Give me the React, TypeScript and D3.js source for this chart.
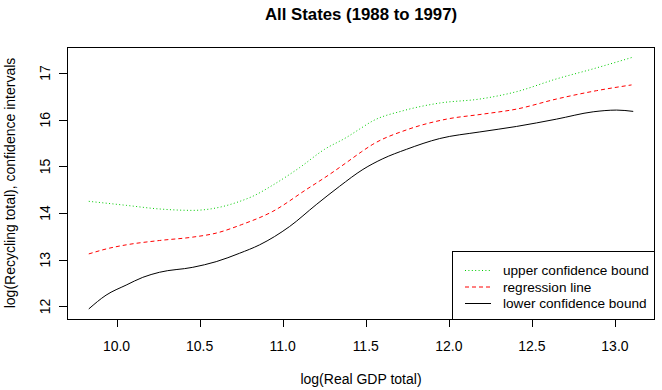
import React from "react";
import * as d3 from "d3";

// ---- data ----
const upperX = [9.833, 10.058, 10.258, 10.459, 10.600, 10.741, 10.820, 10.941, 11.101, 11.252, 11.383, 11.463, 11.543, 11.724, 11.945, 12.187, 12.407, 12.648, 12.869, 13.110];
const upperY = [14.252, 14.166, 14.088, 14.058, 14.110, 14.250, 14.360, 14.600, 14.972, 15.366, 15.619, 15.800, 15.976, 16.192, 16.358, 16.444, 16.601, 16.875, 17.091, 17.343];

const regX = [9.833, 9.957, 10.058, 10.258, 10.459, 10.600, 10.751, 10.941, 11.142, 11.282, 11.383, 11.473, 11.543, 11.745, 11.986, 12.206, 12.407, 12.648, 12.889, 13.100];
const regY = [13.125, 13.248, 13.319, 13.412, 13.485, 13.571, 13.750, 14.037, 14.504, 14.828, 15.080, 15.310, 15.474, 15.782, 16.013, 16.121, 16.228, 16.444, 16.623, 16.746];

const lowerX = [9.833, 9.937, 10.058, 10.158, 10.258, 10.459, 10.600, 10.741, 10.861, 11.042, 11.202, 11.343, 11.483, 11.603, 11.745, 11.945, 12.187, 12.407, 12.648, 12.869, 13.010, 13.110];
const lowerY = [11.946, 12.241, 12.457, 12.623, 12.731, 12.838, 12.959, 13.140, 13.319, 13.713, 14.181, 14.575, 14.935, 15.165, 15.366, 15.597, 15.739, 15.856, 16.013, 16.170, 16.207, 16.179];

const xTicks = [10.0, 10.5, 11.0, 11.5, 12.0, 12.5, 13.0];
const yTicks = [12, 13, 14, 15, 16, 17];

const legendLabels = ["upper confidence bound", "regression line", "lower confidence bound"];
const titleText = "All States (1988 to 1997)";
const xLabel = "log(Real GDP total)";
const yLabel = "log(Recycling total), confidence intervals";

// ---- layout ----
const W = 662;
const H = 390;
const L = 67;
const R = 655;
const T = 47;
const B = 319;
const FONT = "'Liberation Sans', Arial, Helvetica, sans-serif";

const series = [
  { xs: upperX, ys: upperY, color: "#00CC00", dash: "1,2.4", label: legendLabels[0] },
  { xs: regX, ys: regY, color: "#FF0000", dash: "4,3", label: legendLabels[1] },
  { xs: lowerX, ys: lowerY, color: "#000000", dash: "", label: legendLabels[2] },
];

function ext(lo: number, hi: number): [number, number] {
  const d = (hi - lo) * 0.04;
  return [lo - d, hi + d];
}

export default function App() {
  const allX = [...upperX, ...regX, ...lowerX];
  const allY = [...upperY, ...regY, ...lowerY];
  const x = d3.scaleLinear().domain(ext(d3.min(allX)!, d3.max(allX)!)).range([L, R]);
  const y = d3.scaleLinear().domain(ext(d3.min(allY)!, d3.max(allY)!)).range([B, T]);

  const line = d3
    .line<[number, number]>()
    .x((d) => x(d[0]))
    .y((d) => y(d[1]))
    .curve(d3.curveMonotoneX);

  const legL = 452.5;
  const legT = 251.5;
  const rowY = [270, 286.5, 303];

  return (
    <svg width={W} height={H} style={{ display: "block", position: "absolute", left: 0, top: 0 }} fontFamily={FONT}>
      <rect x={0} y={0} width={W} height={H} fill="#ffffff" />
      <text x={(L + R) / 2} y={19.5} textAnchor="middle" fontSize={16.8} fontWeight="bold" fill="#000">
        {titleText}
      </text>

      {series.map((s, i) => (
        <path
          key={i}
          d={line(s.xs.map((v, j) => [v, s.ys[j]] as [number, number])) || ""}
          fill="none"
          stroke={s.color}
          strokeWidth={1}
          strokeDasharray={s.dash || undefined}
        />
      ))}

      {/* plot box */}
      <rect x={L + 0.5} y={T + 0.5} width={R - L - 1} height={B - T} fill="none" stroke="#000" strokeWidth={1} />

      {/* x axis */}
      {xTicks.map((t) => (
        <g key={t}>
          <line x1={Math.round(x(t)) + 0.5} x2={Math.round(x(t)) + 0.5} y1={B} y2={B + 8} stroke="#000" />
          <text x={x(t)} y={351} textAnchor="middle" fontSize={14} fill="#000">
            {t.toFixed(1)}
          </text>
        </g>
      ))}
      {/* y axis */}
      {yTicks.map((t) => (
        <g key={t}>
          <line x1={L - 8} x2={L} y1={Math.round(y(t)) + 0.5} y2={Math.round(y(t)) + 0.5} stroke="#000" />
          <text
            transform={`translate(50,${y(t)}) rotate(-90)`}
            textAnchor="middle"
            fontSize={14}
            fill="#000"
          >
            {t}
          </text>
        </g>
      ))}

      <text x={(L + R) / 2} y={384} textAnchor="middle" fontSize={14} fill="#000">
        {xLabel}
      </text>
      <text transform={`translate(15,${(T + B) / 2}) rotate(-90)`} textAnchor="middle" fontSize={14} fill="#000">
        {yLabel}
      </text>

      {/* legend */}
      <rect x={legL} y={legT} width={R - 0.5 - legL} height={B + 0.5 - legT} fill="#fff" stroke="#000" strokeWidth={1} />
      {series.map((s, i) => (
        <g key={i}>
          <line
            x1={465}
            x2={491}
            y1={rowY[i] + 0.5}
            y2={rowY[i] + 0.5}
            stroke={s.color}
            strokeWidth={1}
            strokeDasharray={s.dash || undefined}
          />
          <text x={503} y={rowY[i] + 5} fontSize={13.6} fill="#000">
            {s.label}
          </text>
        </g>
      ))}
    </svg>
  );
}
